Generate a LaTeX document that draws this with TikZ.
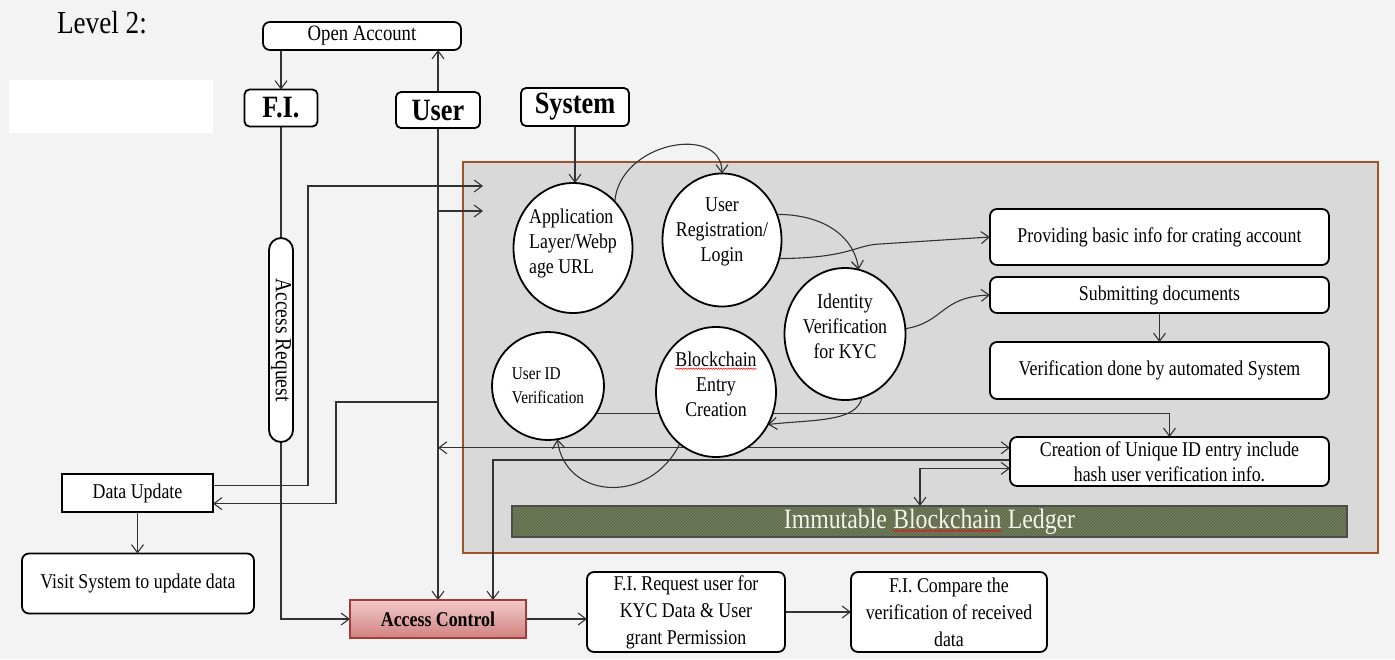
\documentclass[tikz,border=0pt]{standalone}
\usepackage{fontspec}
\setmainfont{Liberation Serif}[FakeStretch=0.85]
\usepackage{graphicx}
\usetikzlibrary{arrows.meta,shapes.geometric,patterns,calc,decorations.pathmorphing}
\newcommand\spellerr[2][black]{\tikz[baseline=(sw.base)]{\node[inner sep=0pt,outer sep=0pt,minimum width=0pt,minimum height=0pt,draw=none,fill=none,xshift=0pt,yshift=0pt,shape=rectangle,text=#1](sw){#2};\draw[red,line width=0.5pt,decorate,decoration={snake,amplitude=0.7pt,segment length=2.5pt}]([yshift=-2.5pt]sw.base west)--([yshift=-2.5pt]sw.base east);}}
\newcommand\fs[2]{\fontsize{#1}{#2}\selectfont}
\definecolor{bgpaper}{HTML}{F3F3F3}
\definecolor{areafill}{HTML}{D9D9D9}
\definecolor{areaborder}{HTML}{A0522D}
\definecolor{ledgerfill}{HTML}{5F6A4A}
\definecolor{ledgerhatch}{HTML}{7D8766}
\definecolor{ledgerborder}{HTML}{4D4D4D}
\definecolor{ledgertext}{HTML}{F4F4EC}
\definecolor{acctop}{HTML}{F2CBCA}
\definecolor{accbot}{HTML}{D0817F}
\definecolor{accborder}{HTML}{A33B38}
\pgfdeclarelayer{bg}
\pgfdeclarelayer{lines}
\pgfsetlayers{bg,lines,main}
\begin{document}
\begin{tikzpicture}[x=1pt,y=-1pt,
  every node/.style={inner sep=0pt, outer sep=0pt},
  conn/.style={draw=black!80, line width=1.1pt},
  arr/.style={conn, -{Straight Barb[length=8pt,width=12pt]}},
  darr/.style={conn, {Straight Barb[length=8pt,width=12pt]}-{Straight Barb[length=8pt,width=12pt]}},
  rbox/.style={draw=black, line width=1.8pt, rounded corners=7pt, fill=white, align=center, font=\fs{21}{27}},
  bubble/.style={ellipse, draw=black, line width=1.8pt, fill=white},
  btext/.style={align=center, font=\fs{21}{25}},
  actor/.style={draw=black, line width=1.8pt, rounded corners=5pt, fill=white, font=\bfseries\fs{31}{32}},
]
\useasboundingbox (0,0) rectangle (1395,659);
\begin{pgfonlayer}{bg}
  \fill[bgpaper] (0,0) rectangle (1395,659);
  \fill[white] (9,80) rectangle (213,133);
  \node[draw=areaborder, fill=areafill, line width=1.6pt, minimum width=915, minimum height=391] (area) at (920.5,357.5) {};
\end{pgfonlayer}

\node[anchor=base west, font=\fs{32}{32}] (lvl) at (57,33) {Level 2:};

\node[rbox, minimum width=198, minimum height=28, font=\fs{22}{22}] (openacc) at (362,36) {Open Account};
\node[actor, minimum width=73, minimum height=37] (fi) at (281,108) {F.I.};
\node[actor, minimum width=84, minimum height=36] (user) at (438,110) {User};
\node[actor, minimum width=108, minimum height=38] (system) at (575,107) {System};

\node[bubble, minimum width=119, minimum height=130, label={[name=appT, btext, align=left, yshift=5pt]center:{Application\\Layer/Webp\\age URL}}] (app) at (573,248) {};
\node[bubble, minimum width=119, minimum height=133, label={[name=regT, btext, yshift=8pt]center:{User\\Registration/\\Login}}] (reg) at (722,240) {};
\node[bubble, minimum width=121, minimum height=132, label={[name=idvT, btext, yshift=8pt]center:{Identity\\Verification\\for KYC}}] (idv) at (845,334) {};
\node[bubble, minimum width=112, minimum height=108, label={[name=uidT, btext, align=left, font=\fs{18}{24}]center:{User ID\\Verification}}] (uid) at (548,386) {};
\node[bubble, minimum width=120, minimum height=130, label={[name=becT, btext, yshift=8pt]center:{\spellerr{Blockchain}\\Entry\\Creation}}] (bec) at (716,392) {};

\node[rbox, minimum width=339, minimum height=56] (prov) at (1159.5,237) {Providing basic info for crating account};
\node[rbox, minimum width=339, minimum height=36] (subm) at (1159.5,295) {Submitting documents};
\node[rbox, minimum width=339, minimum height=57] (verif) at (1159.5,370.5) {Verification done by automated System};
\node[rbox, minimum width=319, minimum height=49, font=\fs{21}{25}] (creat) at (1169.5,461.5) {Creation of Unique ID entry include\\hash user verification info.};

\node[draw=ledgerborder, line width=2.5pt, preaction={fill=ledgerfill}, pattern=north east lines, pattern color=ledgerhatch, minimum width=835, minimum height=31, text=ledgertext, font=\fs{28}{28}] (ledger) at (929.5,521.5) {Immutable \spellerr[ledgertext]{Blockchain} Ledger};

\node[draw=black, line width=1.8pt, rounded corners=12pt, fill=white, minimum width=24, minimum height=204] (cap) at (281,340) {\rotatebox{-90}{\fs{23}{23}Access Request}};

\node[draw=black, line width=2pt, fill=white, minimum width=151, minimum height=38, font=\fs{21}{22}] (dataupd) at (137.5,493) {Data Update};
\node[rbox, minimum width=232, minimum height=60] (visit) at (138,583.5) {Visit System to update data};
\node[draw=accborder, line width=1.2pt, top color=acctop, bottom color=accbot, minimum width=176, minimum height=38, font=\bfseries\fs{21}{22}] (access) at (438,619) {Access Control};
\node[rbox, minimum width=198, minimum height=80] (fireq) at (686,612) {F.I. Request user for\\KYC Data \& User\\grant Permission};
\node[rbox, minimum width=196, minimum height=80] (ficomp) at (949,612) {F.I. Compare the\\verification of received\\data};

% helper coordinates
\coordinate (gin1) at (483,186);
\coordinate (gin2) at (483,211);
\coordinate (k1) at (308,186);
\coordinate (ub1) at (438,402);
\coordinate (k2) at (336,402);
\coordinate (du1) at ($(dataupd.north east)!0.3!(dataupd.south east)$);
\coordinate (du2) at ($(dataupd.north east)!0.78!(dataupd.south east)$);
\coordinate (cA) at ($(creat.north west)!0.22!(creat.south west)$);
\coordinate (cB) at ($(creat.north west)!0.47!(creat.south west)$);
\coordinate (cC) at ($(creat.north west)!0.64!(creat.south west)$);
\coordinate (acc2) at ($(access.north)+(55,0)$);
\coordinate (x920) at (920,0);

\begin{pgfonlayer}{lines}
  \draw[arr] (fi.north |- openacc.south) -- (fi.north);
  \draw[arr] (user.north) -- (user.north |- openacc.south);
  \draw[arr] (system.south) -- (system.south |- app.north);
  \draw[conn] (fi.south) -- (cap.north);
  \draw[arr] (cap.south) |- (access.west);
  \draw[arr] (user.south) -- (access.north);
  \draw[arr] (user.south |- gin2) -- (gin2);
  \draw[arr] (du1) -| (k1) -- (gin1);
  \draw[arr] (ub1) -- (k2) |- (du2);
  \draw[darr] (user.south |- cA) -- (cA);
  \draw[arr] (cB) -| (acc2);
  \draw[darr] (cC) -| (ledger.north -| x920);
  \draw[arr] (uid.-30) -| (creat.north);
  \draw[arr] (app.48) .. controls +(5,-60) and +(0,-50) .. (reg.north);
  \draw[arr] (reg.25) .. controls +(45,0) and +(-5,-35) .. (idv.78);
  \draw[arr] (reg.-18) .. controls (850,258) and (855,245) .. (880,244) -- (prov.west);
  \draw[arr] (idv.5) .. controls (945,322) and (940,297) .. (subm.west);
  \draw[arr] (idv.-75) .. controls +(-5,25) and +(45,-5) .. (bec.-32);
  \draw[arr] (bec.-125) .. controls (650,505) and (565,500) .. (uid.-80);
  \draw[arr] (subm.south) -- (verif.north);
  \draw[arr] (dataupd.south) -- (dataupd.south |- visit.north);
  \draw[arr] (access.east) -- (access.east -| fireq.west);
  \draw[arr] (fireq.east) -- (ficomp.west);
\end{pgfonlayer}
\end{tikzpicture}
\end{document}
